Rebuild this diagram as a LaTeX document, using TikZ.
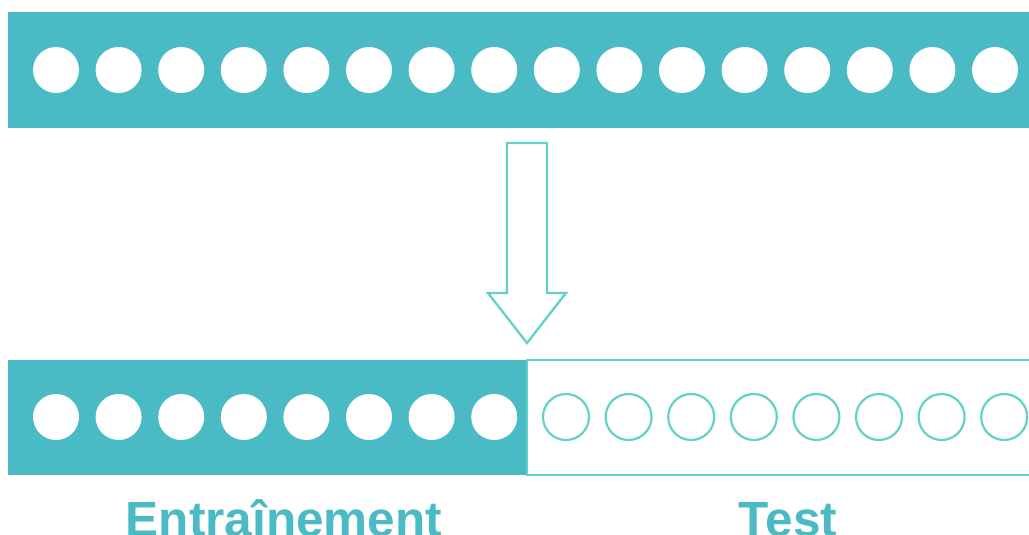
\documentclass[tikz,border=0pt]{standalone}
\usepackage{fontspec}
\setmainfont{Liberation Sans}
\definecolor{fillteal}{RGB}{74,186,196}
\definecolor{lineteal}{RGB}{96,210,200}

\begin{document}
\begin{tikzpicture}[x=1pt, y=-1pt]
\useasboundingbox (0,0) rectangle (1029,535);
\clip (0,0) rectangle (1029,535);

\begin{scope}[label/.style={anchor=base, text=fillteal, font=\bfseries\fontsize{49.5}{50}\selectfont}]

% whole set
\begin{scope}
  \fill[fillteal] (8,12) rectangle (1040,128);
  \foreach \i in {0,...,15}
    \fill[white] (56+62.6*\i, 70) circle (23);
\end{scope}

% split arrow
\draw[lineteal, line width=2.3pt, line join=miter]
  (507,143) -- (547,143) -- (547,293) -- (566,293) -- (527,343)
  -- (488,293) -- (507,293) -- cycle;

% train / test split
\begin{scope}
  \fill[fillteal] (8,360) rectangle (527,475);
  \draw[lineteal, line width=2.5pt] (527,360) rectangle (1045,475);
  \foreach \i in {0,...,7}
    \fill[white] (56+62.6*\i, 417) circle (23);
  \foreach \i in {0,...,7}
    \draw[lineteal, line width=2.2pt] (566+62.6*\i, 417) circle (23);
\end{scope}

\node[label] (train) at (284,536) {Entraînement};
\node[label] (test)  at (788,536) {Test};

\end{scope}
\end{tikzpicture}
\end{document}
